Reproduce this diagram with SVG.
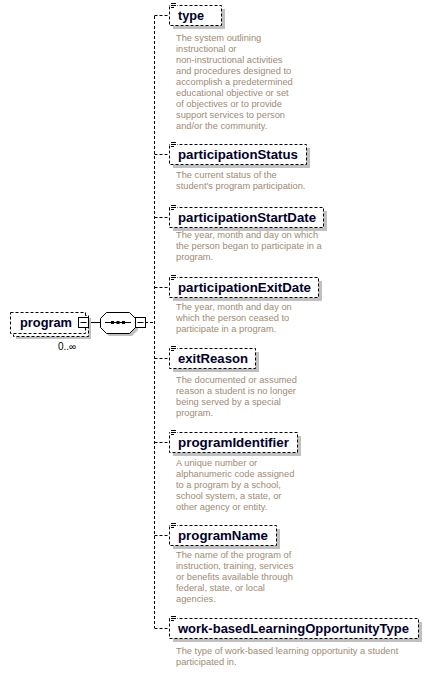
<svg xmlns="http://www.w3.org/2000/svg" width="433" height="673" viewBox="0 0 433 673">
<style>
.bg{fill:#ffffff}
.shadow{fill:#c0c0c0}
.box{fill:#ffffff;stroke:#000000;stroke-width:1;stroke-dasharray:3,2}
.lbl{font-family:"Liberation Sans",Arial,sans-serif;font-weight:bold;font-size:12.5px;fill:#00002a}
.desc{font-family:"Liberation Sans",Arial,sans-serif;font-size:9.3px;fill:#a08a74}
.conn{fill:none;stroke:#000000;stroke-width:1;stroke-dasharray:3,2}
.solid{fill:none;stroke:#000000;stroke-width:1}
.occ{font-family:"Liberation Sans",Arial,sans-serif;font-size:10px;fill:#000000}
.ico{stroke:#000000;stroke-width:1}
</style>
<rect class="bg" x="0" y="0" width="433" height="673"/>

<g id="connectors">
  <line class="solid" x1="88" y1="322.5" x2="100" y2="322.5"/>
  <line class="conn" x1="145" y1="322.5" x2="154.5" y2="322.5"/>
  <line class="conn" x1="154.5" y1="16" x2="154.5" y2="628"/>
  <line class="conn" x1="154.5" y1="15.5" x2="169" y2="15.5"/>
  <line class="conn" x1="154.5" y1="154.5" x2="169" y2="154.5"/>
  <line class="conn" x1="154.5" y1="217.5" x2="169" y2="217.5"/>
  <line class="conn" x1="154.5" y1="287.5" x2="169" y2="287.5"/>
  <line class="conn" x1="154.5" y1="358.5" x2="169" y2="358.5"/>
  <line class="conn" x1="154.5" y1="442.5" x2="169" y2="442.5"/>
  <line class="conn" x1="154.5" y1="535.5" x2="169" y2="535.5"/>
  <line class="conn" x1="154.5" y1="628.5" x2="169" y2="628.5"/>
</g>

<g id="program">
  <rect class="shadow" x="16" y="318" width="75" height="21"/>
  <rect class="box" x="13.5" y="315.5" width="75" height="21"/>
  <rect class="box" x="10.5" y="312.5" width="75" height="21"/>
  <text class="lbl" x="20" y="327" textLength="52" lengthAdjust="spacingAndGlyphs">program</text>
  <rect x="78.5" y="317.5" width="10" height="10" fill="#ffffff" stroke="#000000"/>
  <line class="ico" x1="80.5" y1="322.5" x2="86.5" y2="322.5"/>
  <text class="occ" x="58" y="350">0..∞</text>
</g>

<g id="sequence">
  <polygon class="shadow" points="109,315 132,315 138,321 138,330 132,336 109,336 103,330 103,321"/>
  <polygon points="106.5,312.5 129.5,312.5 135.5,318.5 135.5,327.5 129.5,333.5 106.5,333.5 100.5,327.5 100.5,318.5" fill="#ffffff" stroke="#000000"/>
  <line class="solid" x1="105" y1="322.5" x2="131" y2="322.5"/>
  <rect x="111" y="321" width="3" height="3" fill="#000000"/>
  <rect x="116.5" y="321" width="3" height="3" fill="#000000"/>
  <rect x="122" y="321" width="3" height="3" fill="#000000"/>
  <rect x="135.5" y="317.5" width="10" height="10" fill="#ffffff" stroke="#000000"/>
  <line class="ico" x1="137.5" y1="322.5" x2="143.5" y2="322.5"/>
</g>

<defs>
  <g id="icon">
    <rect x="0" y="-3" width="7" height="6" fill="#ffffff"/>
    <line class="ico" x1="1" y1="-2.5" x2="6" y2="-2.5"/>
    <line class="ico" x1="1" y1="-0.5" x2="6" y2="-0.5"/>
    <line class="ico" x1="1" y1="1.5" x2="4" y2="1.5"/>
  </g>
</defs>

<g id="type">
  <rect class="shadow" x="173" y="9" width="52" height="20"/>
  <rect class="box" x="169.5" y="5.5" width="52" height="20"/>
  <use href="#icon" x="170" y="6"/>
  <text class="lbl" x="178" y="20" textLength="26" lengthAdjust="spacingAndGlyphs">type</text>
  <text class="desc">
    <tspan x="176" y="41">The system outlining</tspan>
    <tspan x="176" y="52">instructional or</tspan>
    <tspan x="176" y="63">non-instructional activities</tspan>
    <tspan x="176" y="74">and procedures designed to</tspan>
    <tspan x="176" y="85">accomplish a predetermined</tspan>
    <tspan x="176" y="96">educational objective or set</tspan>
    <tspan x="176" y="107">of objectives or to provide</tspan>
    <tspan x="176" y="118">support services to person</tspan>
    <tspan x="176" y="129">and/or the community.</tspan>
  </text>
</g>

<g id="participationStatus">
  <rect class="shadow" x="173" y="148" width="137" height="20"/>
  <rect class="box" x="169.5" y="144.5" width="137" height="20"/>
  <use href="#icon" x="170" y="145"/>
  <text class="lbl" x="178" y="159" textLength="120" lengthAdjust="spacingAndGlyphs">participationStatus</text>
  <text class="desc">
    <tspan x="176" y="178">The current status of the</tspan>
    <tspan x="176" y="189">student's program participation.</tspan>
  </text>
</g>

<g id="participationStartDate">
  <rect class="shadow" x="173" y="211" width="154" height="20"/>
  <rect class="box" x="169.5" y="207.5" width="154" height="20"/>
  <use href="#icon" x="170" y="208"/>
  <text class="lbl" x="178" y="222" textLength="138" lengthAdjust="spacingAndGlyphs">participationStartDate</text>
  <text class="desc">
    <tspan x="176" y="238">The year, month and day on which</tspan>
    <tspan x="176" y="249">the person began to participate in a</tspan>
    <tspan x="176" y="260">program.</tspan>
  </text>
</g>

<g id="participationExitDate">
  <rect class="shadow" x="173" y="281" width="149" height="20"/>
  <rect class="box" x="169.5" y="277.5" width="149" height="20"/>
  <use href="#icon" x="170" y="278"/>
  <text class="lbl" x="178" y="292" textLength="133" lengthAdjust="spacingAndGlyphs">participationExitDate</text>
  <text class="desc">
    <tspan x="176" y="310">The year, month and day on</tspan>
    <tspan x="176" y="321">which the person ceased to</tspan>
    <tspan x="176" y="332">participate in a program.</tspan>
  </text>
</g>

<g id="exitReason">
  <rect class="shadow" x="173" y="352" width="86" height="20"/>
  <rect class="box" x="169.5" y="348.5" width="86" height="20"/>
  <use href="#icon" x="170" y="349"/>
  <text class="lbl" x="178" y="363" textLength="70" lengthAdjust="spacingAndGlyphs">exitReason</text>
  <text class="desc">
    <tspan x="176" y="383">The documented or assumed</tspan>
    <tspan x="176" y="394">reason a student is no longer</tspan>
    <tspan x="176" y="405">being served by a special</tspan>
    <tspan x="176" y="416">program.</tspan>
  </text>
</g>

<g id="programIdentifier">
  <rect class="shadow" x="173" y="436" width="128" height="20"/>
  <rect class="box" x="169.5" y="432.5" width="128" height="20"/>
  <use href="#icon" x="170" y="433"/>
  <text class="lbl" x="178" y="447" textLength="111" lengthAdjust="spacingAndGlyphs">programIdentifier</text>
  <text class="desc">
    <tspan x="176" y="466">A unique number or</tspan>
    <tspan x="176" y="477">alphanumeric code assigned</tspan>
    <tspan x="176" y="488">to a program by a school,</tspan>
    <tspan x="176" y="499">school system, a state, or</tspan>
    <tspan x="176" y="510">other agency or entity.</tspan>
  </text>
</g>

<g id="programName">
  <rect class="shadow" x="173" y="529" width="107" height="20"/>
  <rect class="box" x="169.5" y="525.5" width="107" height="20"/>
  <use href="#icon" x="170" y="526"/>
  <text class="lbl" x="178" y="540" textLength="90" lengthAdjust="spacingAndGlyphs">programName</text>
  <text class="desc">
    <tspan x="176" y="558">The name of the program of</tspan>
    <tspan x="176" y="569">instruction, training, services</tspan>
    <tspan x="176" y="580">or benefits available through</tspan>
    <tspan x="176" y="591">federal, state, or local</tspan>
    <tspan x="176" y="602">agencies.</tspan>
  </text>
</g>

<g id="work-basedLearningOpportunityType">
  <rect class="shadow" x="173" y="622" width="249" height="20"/>
  <rect class="box" x="169.5" y="618.5" width="249" height="20"/>
  <use href="#icon" x="170" y="619"/>
  <text class="lbl" x="178" y="633" textLength="231" lengthAdjust="spacingAndGlyphs">work-basedLearningOpportunityType</text>
  <text class="desc">
    <tspan x="176" y="654">The type of work-based learning opportunity a student</tspan>
    <tspan x="176" y="665">participated in.</tspan>
  </text>
</g>
</svg>
